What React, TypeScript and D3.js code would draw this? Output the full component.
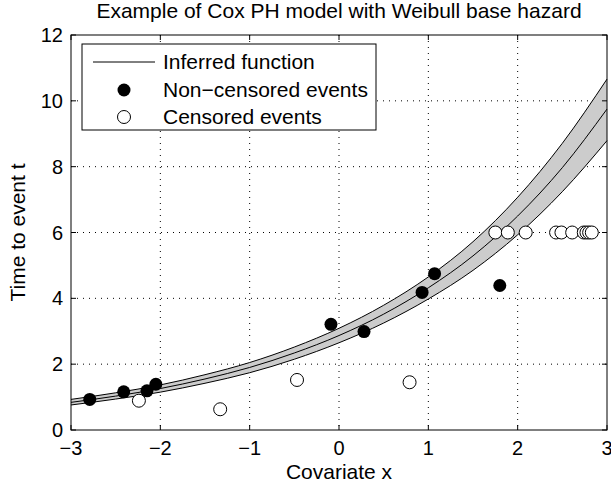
import React from "react";
import * as d3 from "d3";

// fitted curve, with its confidence band
const curveX = [-3, -2.5, -2, -1.5, -1, -0.5, 0, 0.5, 1, 1.5, 2, 2.5, 3];
const curveMid = [0.84, 1.03, 1.26, 1.55, 1.9, 2.34, 2.87, 3.52, 4.32, 5.29, 6.5, 7.97, 9.75];
const curveHi = [0.93, 1.13, 1.37, 1.68, 2.05, 2.52, 3.09, 3.79, 4.65, 5.72, 7.07, 8.71, 10.66];
const curveLo = [0.76, 0.94, 1.15, 1.42, 1.74, 2.15, 2.65, 3.25, 3.98, 4.85, 5.93, 7.24, 8.79];

// non-censored events
const eventX = [-2.79, -2.41, -2.15, -2.05, -0.09, 0.28, 0.93, 1.07, 1.8];
const eventT = [0.93, 1.16, 1.19, 1.39, 3.21, 2.99, 4.18, 4.75, 4.39];

// censored events
const censX = [-2.24, -1.33, -0.47, 0.79, 1.75, 1.89, 2.09, 2.43, 2.49, 2.61, 2.74, 2.77, 2.8, 2.83];
const censT = [0.89, 0.63, 1.52, 1.45, 6, 6, 6, 6, 6, 6, 6, 6, 6, 6];

const xTicks = [-3, -2, -1, 0, 1, 2, 3];
const yTicks = [0, 2, 4, 6, 8, 10, 12];

const W = 611, H = 491;
const left = 71, right = 607, top = 35, bottom = 430;
const font = "'Liberation Sans', Arial, Helvetica, sans-serif";

export default function App() {
  const x = d3.scaleLinear().domain([-3, 3]).range([left, right]);
  const y = d3.scaleLinear().domain([0, 12]).range([bottom, top]);
  const fmt = d3.format("");

  const pts = curveX.map((v, i) => ({ x: v, m: curveMid[i], hi: curveHi[i], lo: curveLo[i] }));
  const area = d3.area<any>().x(d => x(d.x)).y0(d => y(d.lo)).y1(d => y(d.hi)).curve(d3.curveMonotoneX);
  const line = (k: string) => d3.line<any>().x(d => x(d.x)).y(d => y(d[k])).curve(d3.curveMonotoneX)(pts);

  const r = 6.5;
  const tk = 5;

  return (
    <svg width={W} height={H} style={{ position: "absolute", left: 0, top: 0, background: "#fff" }}
      fontFamily={font}>
      <rect x={0} y={0} width={W} height={H} fill="#fff" />
      <text x={(left + right) / 2} y={18} textAnchor="middle" fontSize={21}>
        Example of Cox PH model with Weibull base hazard
      </text>

      {/* grid */}
      <g stroke="#000" strokeWidth={1} strokeDasharray="1 5">
        {xTicks.slice(1, -1).map(t => (
          <line key={"gx" + t} x1={x(t)} x2={x(t)} y1={top} y2={bottom} />
        ))}
        {yTicks.slice(1, -1).map(t => (
          <line key={"gy" + t} x1={left} x2={right} y1={y(t)} y2={y(t)} />
        ))}
      </g>

      {/* band and curves */}
      <path d={area(pts) || ""} fill="#cccccc" stroke="none" />
      <g fill="none" stroke="#000" strokeWidth={1}>
        <path d={line("hi") || ""} />
        <path d={line("lo") || ""} />
        <path d={line("m") || ""} />
      </g>

      {eventX.map((v, i) => (
        <circle key={"e" + i} cx={x(v)} cy={y(eventT[i])} r={r} fill="#000" />
      ))}
      {censX.map((v, i) => (
        <circle key={"c" + i} cx={x(v)} cy={y(censT[i])} r={r} fill="#fff" stroke="#000" strokeWidth={1} />
      ))}

      {/* box and ticks */}
      <rect x={left} y={top} width={right - left} height={bottom - top} fill="none" stroke="#000" strokeWidth={1} />
      <g stroke="#000" strokeWidth={1}>
        {xTicks.map(t => (
          <g key={"tx" + t}>
            <line x1={x(t)} x2={x(t)} y1={bottom} y2={bottom - tk} />
            <line x1={x(t)} x2={x(t)} y1={top} y2={top + tk} />
          </g>
        ))}
        {yTicks.map(t => (
          <g key={"ty" + t}>
            <line x1={left} x2={left + tk} y1={y(t)} y2={y(t)} />
            <line x1={right} x2={right - tk} y1={y(t)} y2={y(t)} />
          </g>
        ))}
      </g>
      <g fontSize={20}>
        {xTicks.map(t => (
          <text key={"lx" + t} x={x(t)} y={455} textAnchor="middle">{fmt(t)}</text>
        ))}
        {yTicks.map(t => (
          <text key={"ly" + t} x={63} y={y(t) + 7} textAnchor="end">{fmt(t)}</text>
        ))}
      </g>
      <text x={(left + right) / 2} y={479} textAnchor="middle" fontSize={21}>Covariate x</text>
      <text transform={`translate(25,${(top + bottom) / 2}) rotate(-90)`} textAnchor="middle" fontSize={21}>
        Time to event t
      </text>

      {/* legend */}
      <g>
        <rect x={82} y={44} width={294} height={86} fill="#fff" stroke="#000" strokeWidth={1} />
        <line x1={93} x2={155} y1={62} y2={62} stroke="#000" strokeWidth={1} />
        <circle cx={124} cy={90} r={r} fill="#000" />
        <circle cx={124} cy={117} r={r} fill="#fff" stroke="#000" />
        <g fontSize={21}>
          <text x={163} y={69}>Inferred function</text>
          <text x={163} y={97}>Non−censored events</text>
          <text x={163} y={124}>Censored events</text>
        </g>
      </g>
    </svg>
  );
}
